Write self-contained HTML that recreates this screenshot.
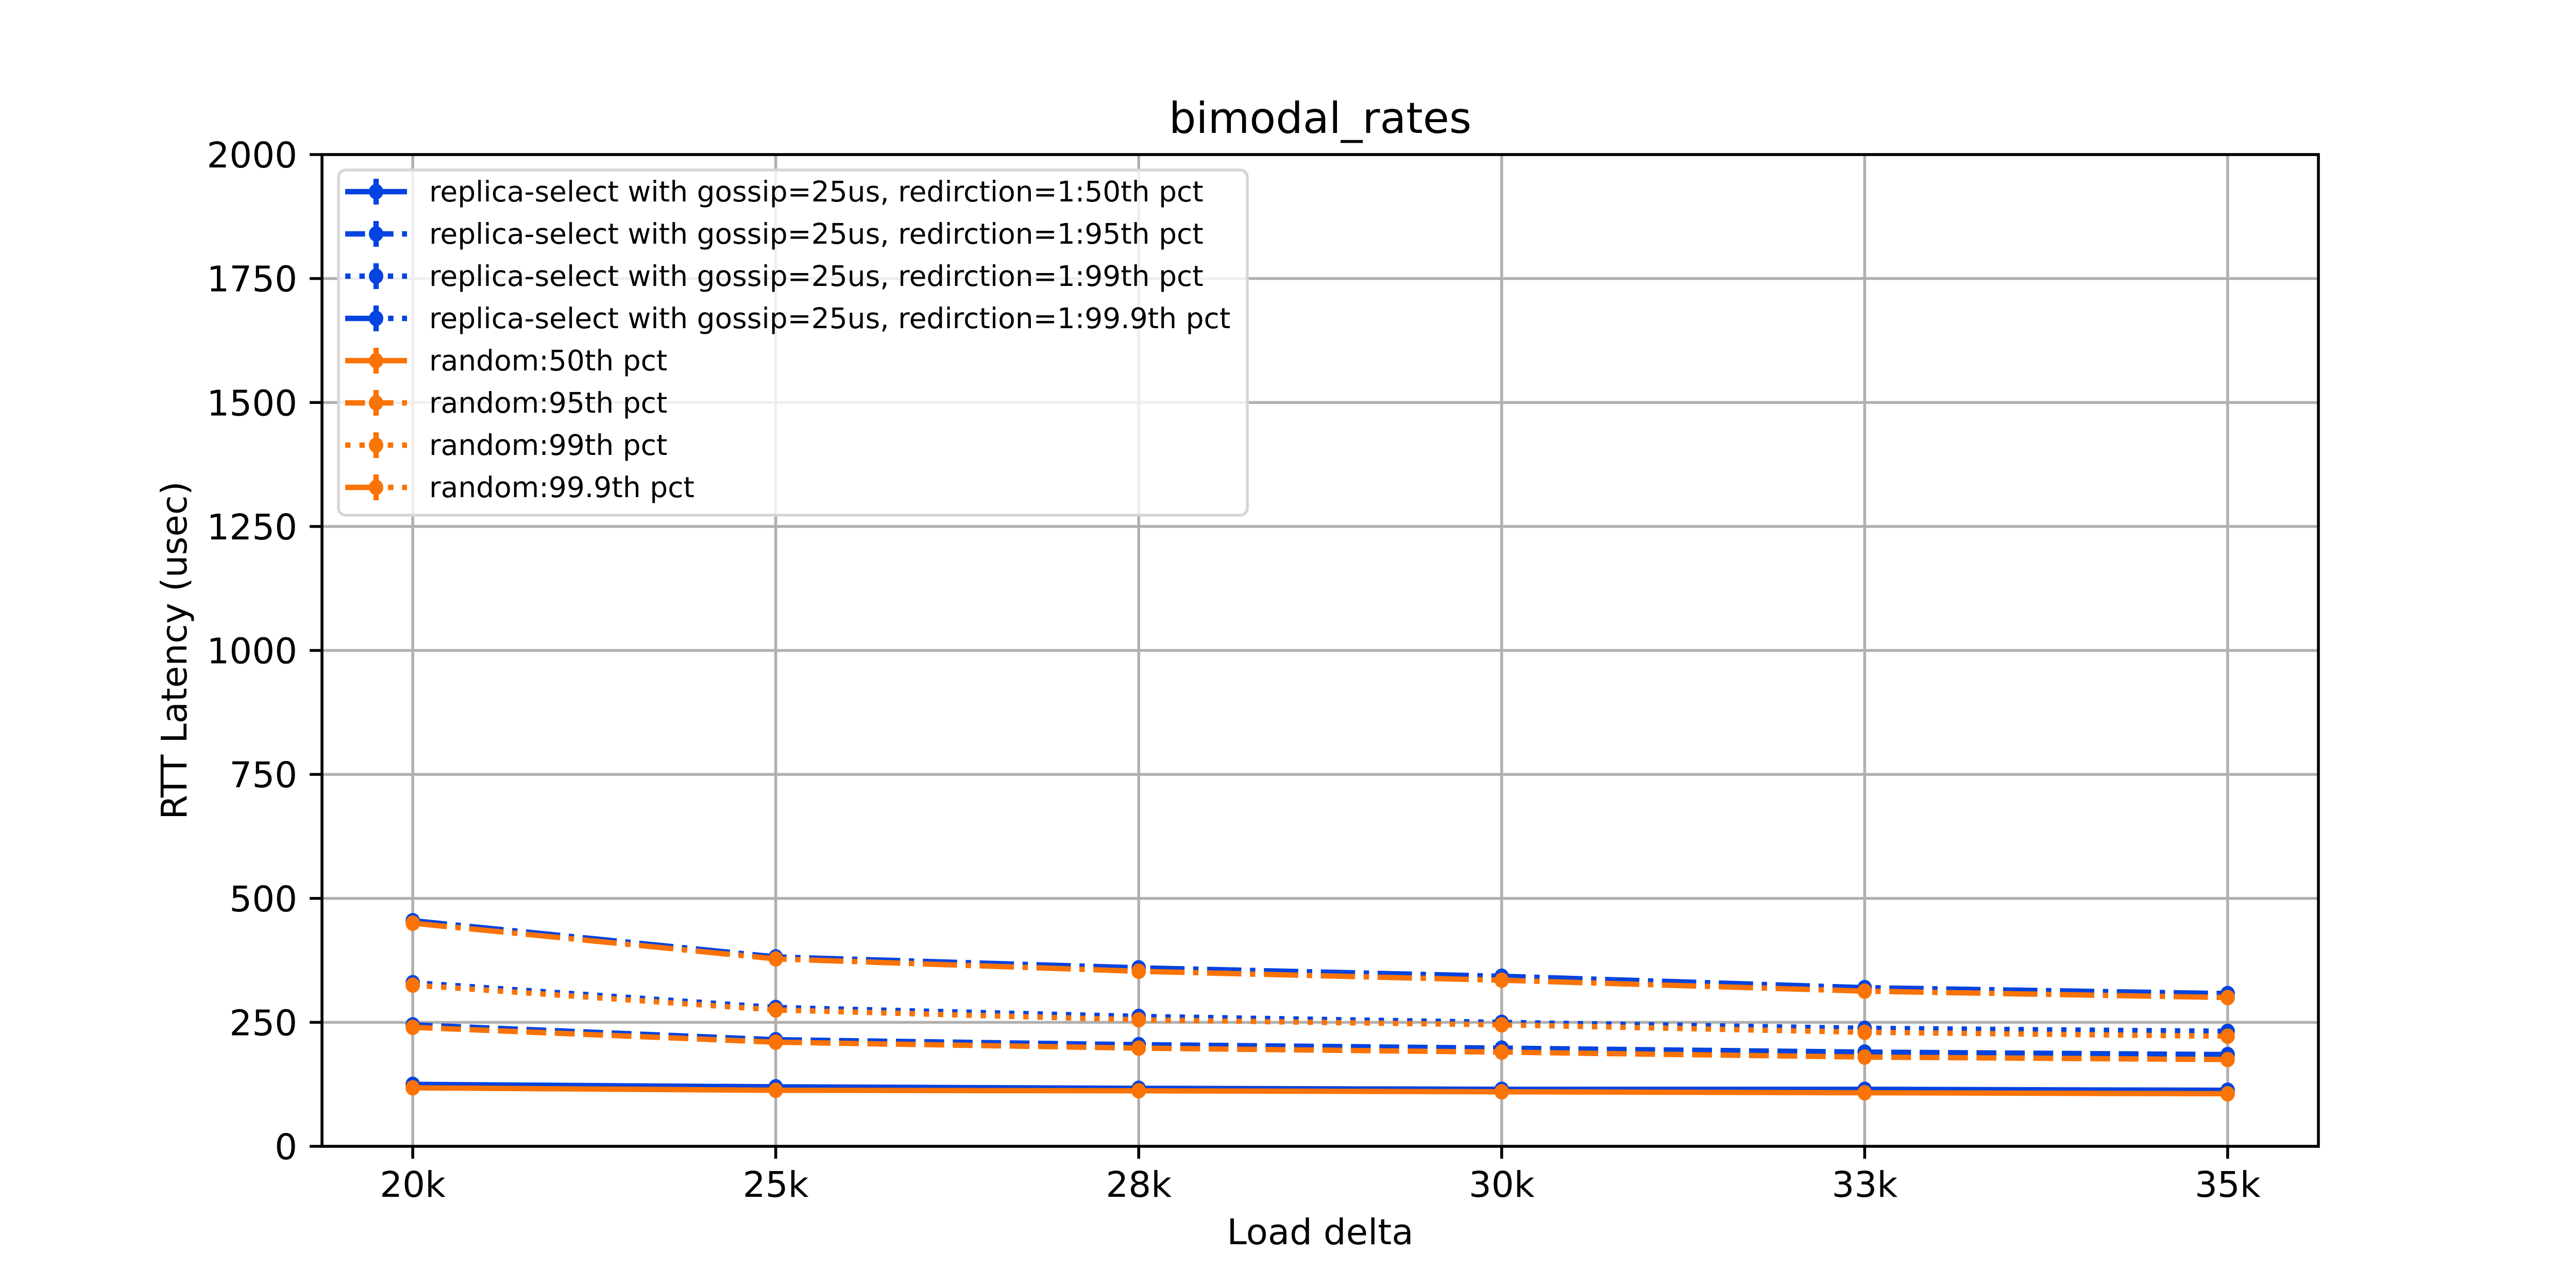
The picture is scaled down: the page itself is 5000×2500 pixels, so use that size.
<!DOCTYPE html>
<html><head><meta charset="utf-8"><style>
html,body{margin:0;padding:0;background:#fff;}
svg{display:block;font-family:"DejaVu Sans","Liberation Sans",sans-serif;}
</style></head><body>
<svg id="chart" width="5000" height="2500" viewBox="0 0 5000 2500" xmlns="http://www.w3.org/2000/svg">
<rect width="5000" height="2500" fill="#fff"/>
<g id="grid"></g>
<g id="series"></g>
<g id="axes"></g>
<g id="legend"></g>
</svg>
<script>
const categories = ["20k","25k","28k","30k","33k","35k"];
const yTicks = [0,250,500,750,1000,1250,1500,1750,2000];
const blue50 = [125,120,117,115,115,113];
const blue95 = [245,215,205,198,190,185];
const blue99 = [330,280,262,250,238,232];
const blue999 = [455,382,360,343,320,308];
const orange50 = [118,113,112,110,108,106];
const orange95 = [240,210,198,190,180,175];
const orange99 = [325,275,255,245,230,222];
const orange999 = [450,378,353,335,313,300];
const labels = ["replica-select with gossip=25us, redirction=1:50th pct","replica-select with gossip=25us, redirction=1:95th pct","replica-select with gossip=25us, redirction=1:99th pct","replica-select with gossip=25us, redirction=1:99.9th pct","random:50th pct","random:95th pct","random:99th pct","random:99.9th pct"];

const NS="http://www.w3.org/2000/svg";
const L=625,R=4500,T=300,B=2225;
const n=categories.length;
const unit=(R-L)/((n-1)*1.1);
function xPos(i){return L+unit*(0.05*(n-1))+i*unit;}
function yPos(v){return B-(v/2000)*(B-T);}
function mk(tag,attrs,parent){const e=document.createElementNS(NS,tag);for(const k in attrs)e.setAttribute(k,attrs[k]);parent.appendChild(e);return e;}
const BLUE="#0343df",ORANGE="#f97306",LW=10.4;
const dashes=["none","38.5,16.7","10.4,17.2","66.6,16.7,10.4,16.7"];

const grid=document.getElementById('grid');
categories.forEach((c,i)=>{const g=mk('line',{x1:xPos(i),x2:xPos(i),y1:T,y2:B,stroke:'#b0b0b0','stroke-width':5.6},grid);

});
yTicks.forEach(v=>{const g=mk('line',{x1:L,x2:R,y1:yPos(v),y2:yPos(v),stroke:'#b0b0b0','stroke-width':5.6},grid);

});

const series=[[blue50,BLUE,0],[blue95,BLUE,1],[blue99,BLUE,2],[blue999,BLUE,3],[orange50,ORANGE,0],[orange95,ORANGE,1],[orange99,ORANGE,2],[orange999,ORANGE,3]];
const sg=document.getElementById('series');
series.forEach((s,si)=>{
  const [vals,col,d]=s;
  const g=mk('g',{},sg);
  
  
  const pts=vals.map((v,i)=>xPos(i)+','+yPos(v)).join(' ');
  const pl=mk('polyline',{points:pts,fill:'none',stroke:col,'stroke-width':LW,'stroke-dasharray':dashes[d]},g);
  
  
  vals.forEach((v,i)=>{
    const eb=mk('line',{x1:xPos(i),x2:xPos(i),y1:yPos(v)-14,y2:yPos(v)+14,stroke:col,'stroke-width':LW*0.8},g);
    
    
    const m=mk('ellipse',{cx:xPos(i),cy:yPos(v),rx:14,ry:15,fill:col},g);
    
    
  });
});

const ax=document.getElementById('axes');
const frame=mk('rect',{x:L,y:T,width:R-L,height:B-T,fill:'none',stroke:'#000','stroke-width':5.6},ax);


categories.forEach((c,i)=>{
  mk('line',{x1:xPos(i),x2:xPos(i),y1:B,y2:B+24,stroke:'#000','stroke-width':5.6},ax);
  const t=mk('text',{x:xPos(i),y:B+98,'font-size':69,'text-anchor':'middle'},ax);t.textContent=c;
  
  
});
yTicks.forEach(v=>{
  mk('line',{x1:L-24,x2:L,y1:yPos(v),y2:yPos(v),stroke:'#000','stroke-width':5.6},ax);
  const t=mk('text',{x:L-48,y:yPos(v)+25,'font-size':69,'text-anchor':'end'},ax);t.textContent=v;
  
  
});
let t=mk('text',{x:(L+R)/2,y:2415,'font-size':69,'text-anchor':'middle'},ax);t.textContent='Load delta';


t=mk('text',{x:0,y:0,'font-size':69,'text-anchor':'middle',transform:'translate(362,'+((T+B)/2)+') rotate(-90)'},ax);t.textContent='RTT Latency (usec)';


t=mk('text',{x:(L+R)/2,y:258,'font-size':83,'text-anchor':'middle'},ax);t.textContent='bimodal_rates';



const lg=document.getElementById('legend');


mk('rect',{x:657,y:330,width:1764,height:670,rx:14,fill:'#fff','fill-opacity':0.8,stroke:'#d6d6d6','stroke-width':5.6},lg);
series.forEach((s,si)=>{
  const [vals,col,d]=s;
  const y=372+si*82;
  const e=mk('g',{},lg);
  
  
  mk('line',{x1:670,x2:790,y1:y,y2:y,stroke:col,'stroke-width':LW,'stroke-dasharray':dashes[d]},e);
  mk('line',{x1:730,x2:730,y1:y-25,y2:y+25,stroke:col,'stroke-width':LW},e);
  mk('ellipse',{cx:730,cy:y,rx:14,ry:15,fill:col},e);
  const tx=mk('text',{x:833,y:y+19,'font-size':55},e);tx.textContent=labels[si];
});
</script>
</body></html>
